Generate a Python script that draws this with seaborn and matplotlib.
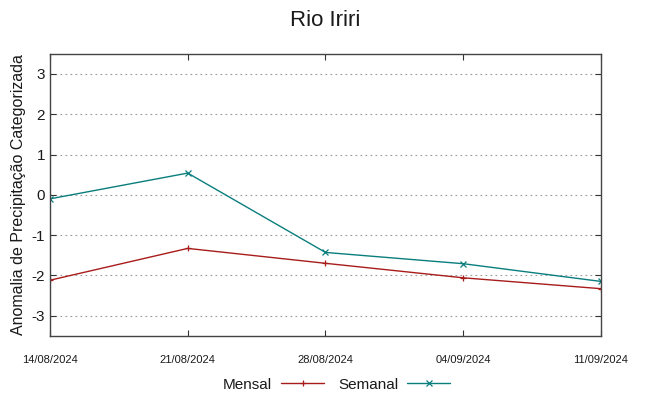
import pandas as pd
import matplotlib
matplotlib.use('Agg')
import matplotlib.pyplot as plt
import seaborn as sns

# data
datas = ['14/08/2024', '21/08/2024', '28/08/2024', '04/09/2024', '11/09/2024']
mensal = [-2.12, -1.33, -1.70, -2.06, -2.33]
semanal = [-0.10, 0.54, -1.43, -1.71, -2.15]

df = pd.DataFrame({
    'data': datas * 2,
    'anomalia': mensal + semanal,
    'serie': ['Mensal'] * len(datas) + ['Semanal'] * len(datas),
})

sns.set_style('ticks')
plt.rcParams['font.family'] = ['Liberation Sans', 'DejaVu Sans']
plt.rcParams['axes.unicode_minus'] = False
plt.rcParams['text.color'] = '#1a1a1a'
plt.rcParams['axes.labelcolor'] = '#1a1a1a'
plt.rcParams['xtick.labelcolor'] = '#1a1a1a'
plt.rcParams['ytick.labelcolor'] = '#1a1a1a'

fig, ax = plt.subplots(figsize=(6.49, 3.96), dpi=100)
fig.subplots_adjust(left=0.077, right=0.926, top=0.864, bottom=0.152)

cores = {'Mensal': '#a81c1c', 'Semanal': '#0a7d7d'}
sns.lineplot(data=df, x='data', y='anomalia', hue='serie', style='serie',
             markers={'Mensal': '+', 'Semanal': 'x'}, dashes=False,
             palette=cores, linewidth=1.0, markersize=5, markeredgewidth=0.9,
             sort=False, ax=ax, legend=False)

# seaborn paints line markers white, give them the line colour
for ln in ax.lines:
    ln.set_markeredgecolor(ln.get_color())

ax.set_xlim(0, len(datas) - 1)
ax.set_ylim(-3.5, 3.5)
ax.set_yticks([-3, -2, -1, 0, 1, 2, 3])
ax.set_xticks(range(len(datas)))
ax.set_xticklabels(datas, fontsize=8)
ax.tick_params(axis='y', labelsize=11)
ax.tick_params(direction='in', top=True, right=True, length=4, width=0.8, color='#333333')
ax.tick_params(axis='x', pad=14)
ax.yaxis.grid(True, linestyle=(0, (1.5, 3)), color='#999999', linewidth=0.8)
for s in ax.spines.values():
    s.set_color('#444444')
    s.set_linewidth(1.0)

ax.set_xlabel('')
ax.set_ylabel('Anomalia de Precipitação Categorizada', fontsize=11.5)
ax.set_title('Rio Iriri', fontsize=16, pad=20)

ax.legend(ax.lines[:2], ['Mensal', 'Semanal'], loc='upper center',
          bbox_to_anchor=(0.52, -0.1), ncol=2, frameon=False,
          markerfirst=False, fontsize=11, handlelength=2.8, columnspacing=0.9,
          handletextpad=0.6)

plt.savefig('out.png', dpi=100)
